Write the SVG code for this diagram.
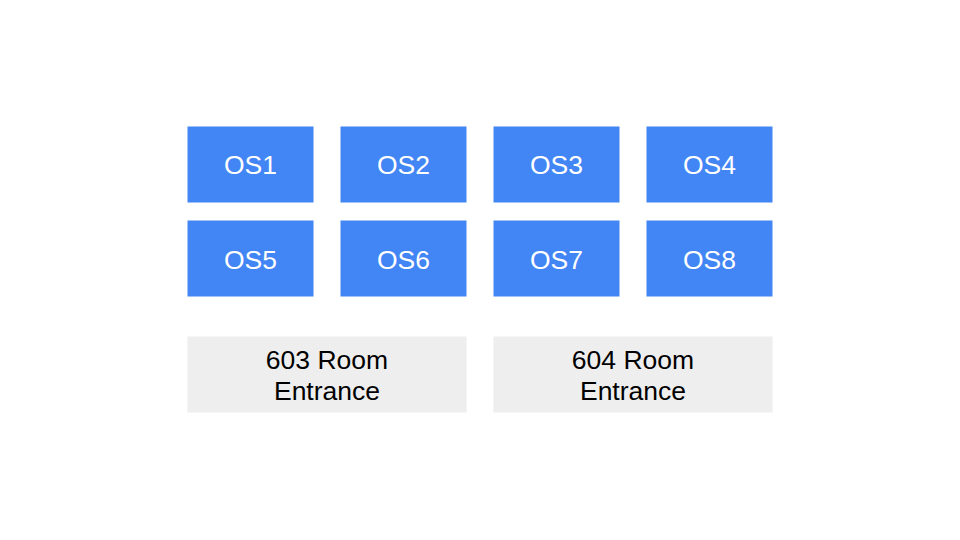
<svg xmlns="http://www.w3.org/2000/svg" width="960" height="540" viewBox="0 0 960 540">
<style>
.os{fill:#4285f4}
.room{fill:#eeeeee}
.t{font-family:"Liberation Sans",Arial,sans-serif;font-size:26.5px;text-anchor:middle}
.w{fill:#ffffff}
.k{fill:#000000}
</style>
<rect width="960" height="540" fill="#ffffff"/>
<g id="OS1"><rect class="os" x="187.5" y="126.5" width="126" height="76"/><text class="t w" x="250.5" y="173.5">OS1</text></g>
<g id="OS2"><rect class="os" x="340.5" y="126.5" width="126" height="76"/><text class="t w" x="403.5" y="173.5">OS2</text></g>
<g id="OS3"><rect class="os" x="493.5" y="126.5" width="126" height="76"/><text class="t w" x="556.5" y="173.5">OS3</text></g>
<g id="OS4"><rect class="os" x="646.5" y="126.5" width="126" height="76"/><text class="t w" x="709.5" y="173.5">OS4</text></g>
<g id="OS5"><rect class="os" x="187.5" y="220.5" width="126" height="76"/><text class="t w" x="250.5" y="268.5">OS5</text></g>
<g id="OS6"><rect class="os" x="340.5" y="220.5" width="126" height="76"/><text class="t w" x="403.5" y="268.5">OS6</text></g>
<g id="OS7"><rect class="os" x="493.5" y="220.5" width="126" height="76"/><text class="t w" x="556.5" y="268.5">OS7</text></g>
<g id="OS8"><rect class="os" x="646.5" y="220.5" width="126" height="76"/><text class="t w" x="709.5" y="268.5">OS8</text></g>
<g id="room603"><rect class="room" x="187.5" y="336.5" width="279" height="76"/><text class="t k" x="327" y="368.8">603 Room</text><text class="t k" x="327" y="400">Entrance</text></g>
<g id="room604"><rect class="room" x="493.5" y="336.5" width="279" height="76"/><text class="t k" x="633" y="368.8">604 Room</text><text class="t k" x="633" y="400">Entrance</text></g>
<g id="connectors"></g>
</svg>
